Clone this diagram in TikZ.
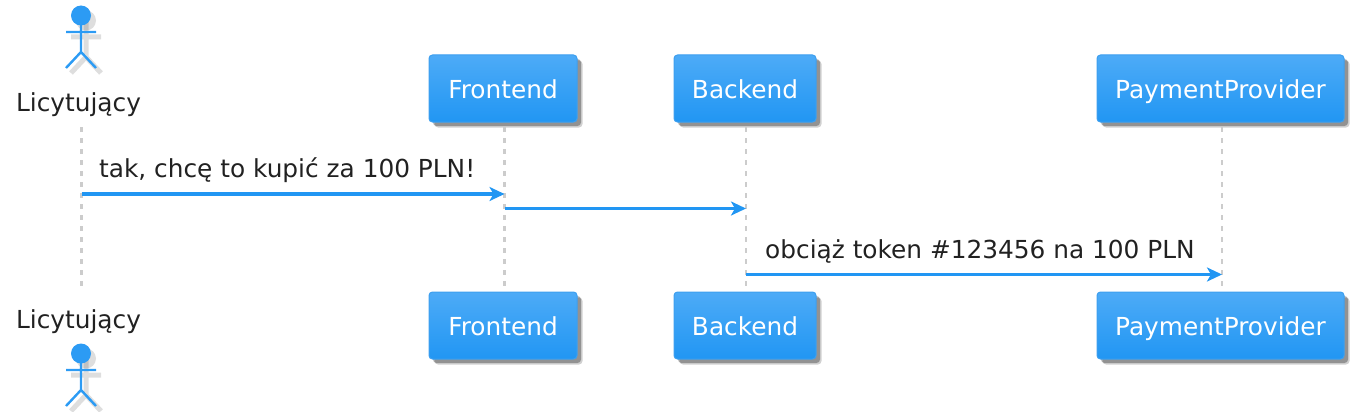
\documentclass[tikz,border=0pt]{standalone}
\usepackage{fontspec}
\setmainfont{DejaVu Sans}
\usetikzlibrary{arrows.meta,shadows}
\definecolor{boxtop}{HTML}{4DABF7}
\definecolor{boxbottom}{HTML}{2196F3}
\definecolor{boxline}{HTML}{3D9FEF}
\definecolor{msgblue}{HTML}{2196F3}
\definecolor{lifegray}{HTML}{CCCCCC}
\definecolor{textdark}{HTML}{212121}
\tikzset{
  partbox/.style={draw=boxline, line width=1pt, rounded corners=3.5pt, top color=boxtop, bottom color=boxbottom,
    text=white, font=\fontsize{24.8}{28}\selectfont, inner sep=0pt, minimum height=67pt, text height=24pt, text depth=4.4pt,
    drop shadow={shadow xshift=5.5pt, shadow yshift=-5.5pt, fill=black, opacity=0.18},
    drop shadow={shadow xshift=4pt, shadow yshift=-4pt, fill=black, opacity=0.3}},
  actorname/.style={text=textdark, font=\fontsize{24.8}{28}\selectfont, inner sep=0pt, anchor=base},
  msgtext/.style={text=textdark, font=\fontsize{24.8}{28}\selectfont, inner sep=0pt, anchor=base west},
  lifeline/.style={lifegray, line width=2.8pt, dash pattern=on 5pt off 6pt},
  msg/.style={msgblue, line width=3.2pt, -{Stealth[length=15pt, width=14pt, inset=4pt]}},
  actorfig/.pic={
    \begin{scope}[shift={(5,5)}, black, opacity=0.13, line width=5pt]
      \fill (0,-8.5) circle (10);
      \draw (-15,8) -- (15,8) (0,-8) -- (0,28) (-15,44) -- (0,28) -- (15,44);
    \end{scope}
    \draw[msgblue!95!white, line width=2.4pt] (-15,8) -- (15,8) (0,1) -- (0,28) (-15,44) -- (0,28) -- (15,44);
    \fill[msgblue!95!white] (0,-8.5) circle (10);
  }
}
\begin{document}
\begin{tikzpicture}[x=1pt,y=-1pt]
\useasboundingbox (0,0) rectangle (1357,412);
% lifelines go under the boxes
\coordinate (licTop) at (81.5,127);
\coordinate (licBottom) at (81.5,290);
\node[partbox, minimum width=148pt] (frontTop) at (503,88.5) {Frontend};
\node[partbox, minimum width=142pt] (backTop) at (745,88.5) {Backend};
\node[partbox, minimum width=247pt] (payTop) at (1220.5,88.5) {PaymentProvider};
\node[partbox, minimum width=148pt] (frontBottom) at (503,325.5) {Frontend};
\node[partbox, minimum width=142pt] (backBottom) at (745,325.5) {Backend};
\node[partbox, minimum width=247pt] (payBottom) at (1220.5,325.5) {PaymentProvider};
\draw[lifeline] (licTop) -- (licBottom);
\draw[lifeline] (504.5,127) coordinate (f1) -- (504.5,288) coordinate (f2);
\draw[lifeline] (746,127) coordinate (b1) -- (746,288) coordinate (b2);
\draw[lifeline] (1222,127) coordinate (p1) -- (1222,288) coordinate (p2);
% actor on top and on bottom
\pic at (81,24) {actorfig};
\node[actorname] (licNameTop) at (78.5,111.5) {Licytujący};
\node[actorname] (licNameBottom) at (78.5,328.5) {Licytujący};
\pic at (81,362) {actorfig};
% messages
\coordinate (m1) at (0,194);
\coordinate (m2) at (0,208.5);
\coordinate (m3) at (0,274.5);
\draw[msg] (licTop |- m1) -- (f1 |- m1);
\draw[msg] (f1 |- m2) -- (b1 |- m2);
\draw[msg] (b1 |- m3) -- (p1 |- m3);
\node[msgtext] (txt1) at (99,177) {tak, chcę to kupić za 100 PLN!};
\node[msgtext] (txt3) at (765,258) {obciąż token \#123456 na 100 PLN};
\end{tikzpicture}
\end{document}
